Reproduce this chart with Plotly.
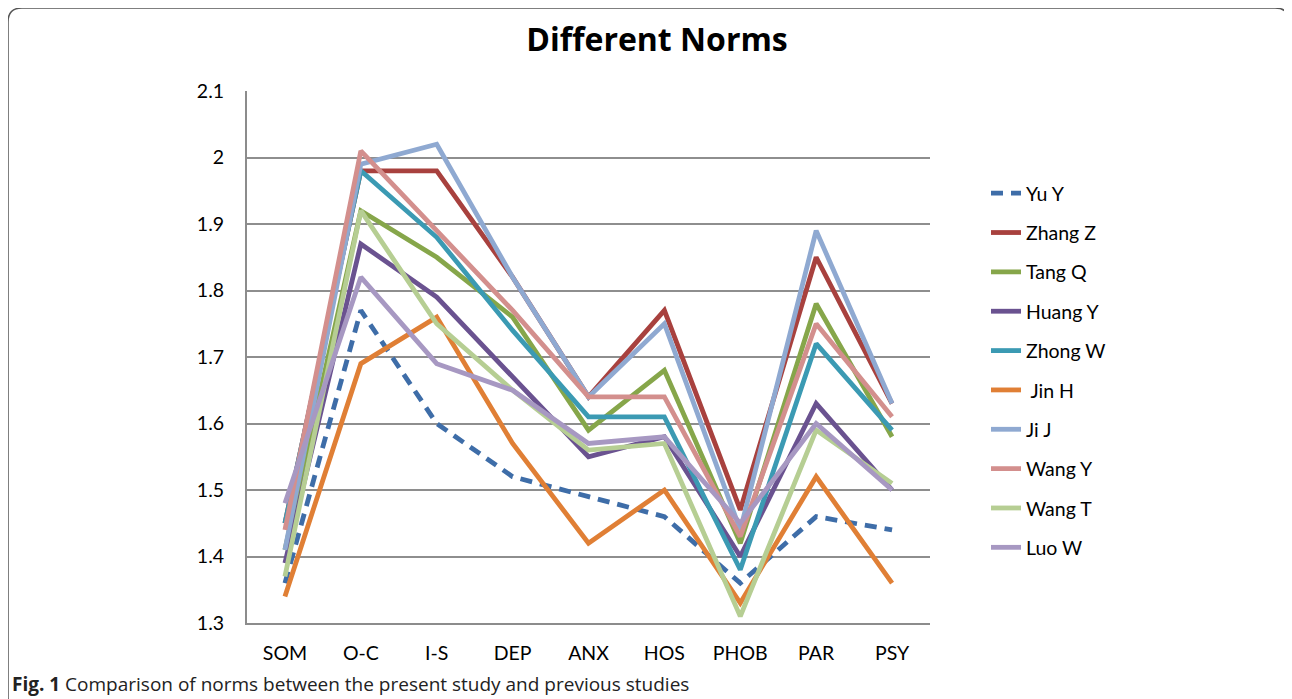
import plotly.graph_objects as go

categories = ["SOM", "O-C", "I-S", "DEP", "ANX", "HOS", "PHOB", "PAR", "PSY"]

yu_y     = [1.36, 1.77, 1.60, 1.52, 1.49, 1.46, 1.36, 1.46, 1.44]
zhang_z  = [1.45, 1.98, 1.98, 1.82, 1.64, 1.77, 1.47, 1.85, 1.63]
tang_q   = [1.41, 1.92, 1.85, 1.76, 1.59, 1.68, 1.42, 1.78, 1.58]
huang_y  = [1.39, 1.87, 1.79, 1.67, 1.55, 1.58, 1.40, 1.63, 1.50]
zhong_w  = [1.45, 1.98, 1.88, 1.74, 1.61, 1.61, 1.38, 1.72, 1.59]
jin_h    = [1.34, 1.69, 1.76, 1.57, 1.42, 1.50, 1.33, 1.52, 1.36]
ji_j     = [1.41, 1.99, 2.02, 1.82, 1.64, 1.75, 1.44, 1.89, 1.63]
wang_y   = [1.44, 2.01, 1.89, 1.77, 1.64, 1.64, 1.43, 1.75, 1.61]
wang_t   = [1.37, 1.92, 1.75, 1.65, 1.56, 1.57, 1.31, 1.59, 1.51]
luo_w    = [1.48, 1.82, 1.69, 1.65, 1.57, 1.58, 1.45, 1.60, 1.50]

series_names = ["Yu Y", "Zhang Z", "Tang Q", "Huang Y", "Zhong W", " Jin H",
                "Ji J", "Wang Y", "Wang T", "Luo W"]
series_values = [yu_y, zhang_z, tang_q, huang_y, zhong_w, jin_h,
                 ji_j, wang_y, wang_t, luo_w]
series_colors = ["#3E6DA8", "#A8413E", "#86A64A", "#6A5290", "#3B9AB3", "#E07F35",
                 "#8FA9D1", "#D38F8D", "#B6CE93", "#A798C2"]

y_tickvals = [1.3, 1.4, 1.5, 1.6, 1.7, 1.8, 1.9, 2.0, 2.1]
y_ticktext = ["1.3", "1.4", "1.5", "1.6", "1.7", "1.8", "1.9", "2", "2.1"]

FONT = "Lato, Open Sans, sans-serif"

fig = go.Figure()
for i, (name, vals, col) in enumerate(zip(series_names, series_values, series_colors)):
    fig.add_trace(go.Scatter(
        x=categories, y=vals, name=name, mode="lines",
        legendgroup=f"g{i}",
        line=dict(color=col, width=4.8, dash="12px,8px" if i == 0 else "solid"),
    ))

# page is rendered with an 8px body offset; work in figure coordinates
W, H = 1292, 699
OFF = 8
L, R, T, B = 247 - OFF, 930 - OFF, 91 - OFF, 623 - OFF

def px_x(p):
    return (p - OFF - L) / (R - L)

def px_y(p):
    return (B - (p - OFF)) / (B - T)

fig.update_layout(
    width=W, height=H,
    margin=dict(l=L, r=W - R, t=T, b=H - B),
    paper_bgcolor="white", plot_bgcolor="white",
    font=dict(family=FONT, size=19.5, color="black"),
    title=dict(text="<b>Different Norms</b>", x=(657 - OFF) / W, xanchor="center",
               y=1 - (40 - OFF) / H, yanchor="middle",
               font=dict(family="Open Sans, sans-serif", size=32, color="black")),
    xaxis=dict(type="category", range=[-0.5, 8.5], showgrid=False,
               showline=True, linecolor="#8c8c8c", linewidth=2,
               ticks="", ticklabelstandoff=12, tickfont=dict(size=19.5)),
    yaxis=dict(range=[1.3, 2.1], tickvals=y_tickvals, ticktext=y_ticktext,
               showgrid=True, gridcolor="#8e8e8e", gridwidth=1.5,
               showline=True, linecolor="#8c8c8c", linewidth=2,
               zeroline=False, ticks="", ticklabelstandoff=17,
               tickfont=dict(size=19.5)),
    legend=dict(x=px_x(986), xanchor="left", y=px_y(174), yanchor="top",
                tracegroupgap=11, font=dict(size=19.5), bgcolor="rgba(0,0,0,0)"),
    showlegend=True,
)

# outer rounded frame (page pixels -> paper)
fx0, fx1 = px_x(8), px_x(1289)
fy_top, fy_bot = px_y(8), px_y(712)
rx = 14 / (R - L)
ry = 14 / (B - T)
path = (f"M {fx0 + rx},{fy_top} L {fx1 - rx},{fy_top} Q {fx1},{fy_top} {fx1},{fy_top - ry} "
        f"L {fx1},{fy_bot + ry} Q {fx1},{fy_bot} {fx1 - rx},{fy_bot} "
        f"L {fx0 + rx},{fy_bot} Q {fx0},{fy_bot} {fx0},{fy_bot + ry} "
        f"L {fx0},{fy_top - ry} Q {fx0},{fy_top} {fx0 + rx},{fy_top} Z")
fig.add_shape(type="path", xref="paper", yref="paper", path=path,
              line=dict(color="#555555", width=1.5), layer="below")

fig.add_annotation(
    xref="paper", yref="paper", x=px_x(10), y=px_y(684),
    xanchor="left", yanchor="middle", showarrow=False,
    text="<b>Fig. 1</b> Comparison of norms between the present study and previous studies",
    font=dict(family="Open Sans, sans-serif", size=19, color="#222222"),
)

fig.write_html("out.html")
